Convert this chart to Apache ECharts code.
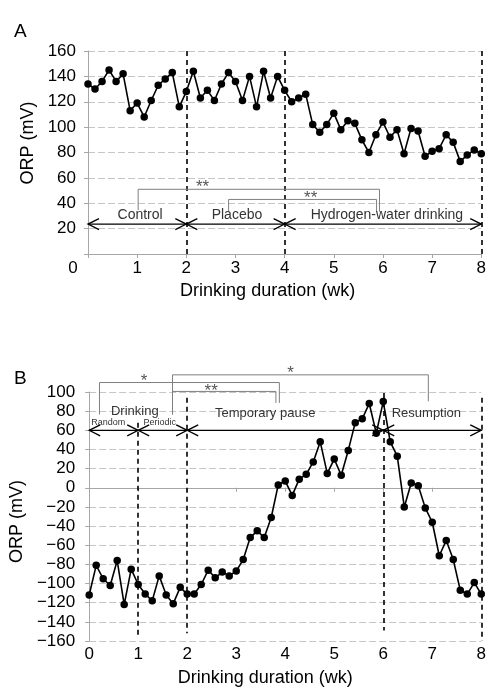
<!DOCTYPE html>
<html><head><meta charset="utf-8">
<script src="https://cdn.jsdelivr.net/npm/echarts@6/dist/echarts.min.js"></script>
<style>html,body{margin:0;padding:0;background:#fff}#c{width:489px;height:688px}</style>
</head><body><div id="c"></div>
<script>
// ---- Data ----
// Panel A: daily ORP (mV), day 0..56
const orpA = [134,130,136,145,136,142,113,119,108,121,133,138,143,116,128,144,123,129,121,134,143,136,121,140,116,144,123,140,129,120,123,126,102,96,102,111,98,105,103,90,80,94,104,92,98,79,99,97,77,81,83,94,88,73,78,82,79];
// Panel B: daily ORP (mV), day 0..56
const orpB = [-112,-81,-95,-102,-76,-122,-85,-101,-111,-118,-92,-112,-121,-104,-111,-111,-101,-86,-94,-88,-92,-87,-75,-52,-45,-52,-31,3,7,-8,9,14,27,48,15,30,13,39,68,72,88,57,90,48,33,-20,5,2,-21,-36,-71,-55,-75,-107,-111,-99,-111];
const daysPerWeek = 7;
const xTicks = [0,1,2,3,4,5,6,7,8];

// Phase arrows [fromWeek, toWeek, y]
const arrowsA = [[0,2,23.6],[2,4,23.6],[4,8,23.6]];
const arrowsB = [[0,1,60],[1,2,60],[2,6,60],[6,8,60]];
// Phase labels
const phaseLabelsA = ['Control','Placebo','Hydrogen-water drinking'];
const phasePosA = [[1.06,31],[3.03,31],[6.08,31]];
const phaseLabelsB = ['Drinking','Random','Periodic','Temporary pause','Resumption'];
const phasePosB = [[0.93,80],[0.39,68.5],[1.44,68.5],[3.59,78],[6.88,78]];
const phaseSizeB = [13,9,9,13,13];
// Significance brackets [x0, x1, yTop, yLeftBottom, yRightBottom]
const bracketsA = [[1.02,5.93,51,34.6,33.3],[2.86,5.87,43,33.9,33.3]];
const starsA = ['**','**'];
const starPosA = [[2.33,52.5],[4.53,43.6]];
const bracketsB = [[0.21,3.88,109.9,76.5,88.6],[1.70,6.92,117.9,76.5,90.3],[1.70,3.81,100.6,76.5,88.6]];
const starsB = ['*','*','**'];
const starPosB = [[1.12,110.9],[4.11,119.6],[2.49,100.8]];
// Phase boundary lines
const boundsA = [2,4,8];
const boundsB = [[1,68,-154],[2,94,-152],[6,99,-149],[8,94,-160]];

// ---- Helpers ----
const FONT = "'Liberation Sans', Arial, sans-serif";
const seriesPoints = arr => arr.map((v,i)=>[i/daysPerWeek, v]);
const blk = {stroke:'#000', lineWidth:1.3, fill:null};
function arrowRender(params, api){
  const p0 = api.coord([api.value(0), api.value(2)]);
  const p1 = api.coord([api.value(1), api.value(2)]);
  const L = 11, H = 5.5;
  return {type:'group', children:[
    {type:'line', shape:{x1:p0[0],y1:p0[1],x2:p1[0],y2:p1[1]}, style:blk},
    {type:'polyline', shape:{points:[[p0[0]+L,p0[1]-H],[p0[0],p0[1]],[p0[0]+L,p0[1]+H]]}, style:blk},
    {type:'polyline', shape:{points:[[p1[0]-L,p1[1]-H],[p1[0],p1[1]],[p1[0]-L,p1[1]+H]]}, style:blk}
  ]};
}
function bracketRender(params, api){
  const x0=api.value(0), x1=api.value(1), yt=api.value(2), yl=api.value(3), yr=api.value(4);
  return {type:'polyline', shape:{points:[api.coord([x0,yl]),api.coord([x0,yt]),api.coord([x1,yt]),api.coord([x1,yr])]},
    style:{stroke:'#7f7f7f', lineWidth:1, fill:null}};
}
function textRender(texts, sizes, color){
  return function(params, api){
    const p = api.coord([api.value(0), api.value(1)]);
    const i = params.dataIndex;
    return {type:'text', x:p[0], y:p[1], style:{text:texts[i], fill:color, fontSize:(Array.isArray(sizes)?sizes[i]:sizes), fontFamily:FONT, align:'center', verticalAlign:'middle'}};
  };
}
const gridLine = {show:true, lineStyle:{color:'#c6c6c6', type:[7,3], width:1}};
const axLine = {show:true, lineStyle:{color:'#a6a6a6', width:1}};
const axTick = {show:true, length:4, lineStyle:{color:'#a6a6a6'}};
const dashedBlack = {color:'#000', type:[5,4], width:1.6};

const chart = echarts.init(document.getElementById('c'), null, {renderer:'canvas'});
chart.setOption({
  animation:false,
  textStyle:{fontFamily:FONT},
  title:[
    {text:'A', left:9, top:17, textStyle:{fontSize:19, fontWeight:'normal', color:'#000', fontFamily:FONT}},
    {text:'B', left:9, top:364, textStyle:{fontSize:19, fontWeight:'normal', color:'#000', fontFamily:FONT}}
  ],
  grid:[
    {left:88, top:51, width:396, height:203},
    {left:86, top:392, width:399, height:252}
  ],
  xAxis:[
    {gridIndex:0, type:'value', min:xTicks[0], max:xTicks[xTicks.length-1], interval:1,
     axisLine:axLine, axisTick:axTick, splitLine:{show:false},
     axisLabel:{margin:6, fontSize:17, color:'#000', formatter:v=> v===0 ? '{z|0}' : String(v),
       rich:{z:{fontSize:17, color:'#000', padding:[0,30,0,0]}}},
     name:'Drinking duration (wk)', nameLocation:'middle', nameGap:28,
     nameTextStyle:{fontSize:18, color:'#000', padding:[0,34,0,0]}},
    {gridIndex:1, type:'value', min:xTicks[0], max:xTicks[xTicks.length-1], interval:1,
     axisLine:axLine, axisTick:axTick, splitLine:{show:false},
     axisLabel:{margin:5, fontSize:17, color:'#000'},
     name:'Drinking duration (wk)', nameLocation:'middle', nameGap:28,
     nameTextStyle:{fontSize:18, color:'#000', padding:[0,40,0,0]}}
  ],
  yAxis:[
    {gridIndex:0, type:'value', min:0, max:160, interval:20,
     axisLine:axLine, axisTick:axTick, splitLine:gridLine,
     axisLabel:{margin:12, fontSize:17, color:'#000', formatter:v=> v===0 ? '' : String(v)},
     name:'ORP (mV)', nameLocation:'middle', nameGap:46, nameRotate:90,
     nameTextStyle:{fontSize:18, color:'#000', padding:[0,0,0,19]}},
    {gridIndex:1, type:'value', min:-160, max:100, interval:20,
     axisLine:axLine, axisTick:axTick, splitLine:gridLine,
     axisLabel:{margin:14, fontSize:17, color:'#000', formatter:v=> v<0 ? '\u2212'+Math.abs(v) : String(v)},
     name:'ORP (mV)', nameLocation:'middle', nameGap:50, nameRotate:90,
     nameTextStyle:{fontSize:18, color:'#000', padding:[0,10,0,0]}}
  ],
  series:[
    {type:'line', xAxisIndex:0, yAxisIndex:0, data:seriesPoints(orpA), clip:false,
     symbol:'circle', symbolSize:7.5, itemStyle:{color:'#000'}, lineStyle:{color:'#000', width:1.6}, z:5,
     markLine:{silent:true, symbol:['none','none'], label:{show:false}, lineStyle:dashedBlack,
       data: boundsA.map(b=>({xAxis:b}))}},
    {type:'line', xAxisIndex:1, yAxisIndex:1, data:seriesPoints(orpB), clip:false,
     symbol:'circle', symbolSize:7.5, itemStyle:{color:'#000'}, lineStyle:{color:'#000', width:1.6}, z:5,
     markLine:{silent:true, symbol:['none','none'], label:{show:false}, lineStyle:dashedBlack,
       data: boundsB.map(b=>[{coord:[b[0],b[1]]},{coord:[b[0],b[2]]}])}},
    {type:'custom', xAxisIndex:0, yAxisIndex:0, data:arrowsA, renderItem:arrowRender, encode:{x:[0,1], y:2}, z:6, silent:true},
    {type:'custom', xAxisIndex:1, yAxisIndex:1, data:arrowsB, renderItem:arrowRender, encode:{x:[0,1], y:2}, z:6, silent:true},
    {type:'custom', xAxisIndex:0, yAxisIndex:0, data:bracketsA, renderItem:bracketRender, encode:{x:[0,1], y:[2,3,4]}, z:6, silent:true},
    {type:'custom', xAxisIndex:1, yAxisIndex:1, data:bracketsB, renderItem:bracketRender, encode:{x:[0,1], y:[2,3,4]}, z:6, silent:true},
    {type:'custom', xAxisIndex:0, yAxisIndex:0, data:phasePosA, renderItem:textRender(phaseLabelsA,14,'#333'), encode:{x:0,y:1}, z:7, silent:true},
    {type:'custom', xAxisIndex:1, yAxisIndex:1, data:phasePosB, renderItem:textRender(phaseLabelsB,phaseSizeB,'#333'), encode:{x:0,y:1}, z:7, silent:true},
    {type:'custom', xAxisIndex:0, yAxisIndex:0, data:starPosA, renderItem:textRender(starsA,17,'#555'), encode:{x:0,y:1}, z:7, silent:true},
    {type:'custom', xAxisIndex:1, yAxisIndex:1, data:starPosB, renderItem:textRender(starsB,17,'#555'), encode:{x:0,y:1}, z:7, silent:true}
  ]
});
</script></body></html>
